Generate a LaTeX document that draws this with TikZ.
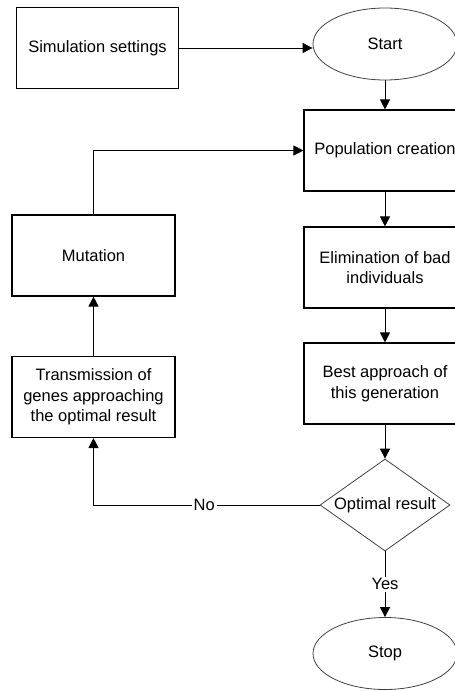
\documentclass[tikz,border=0pt]{standalone}
\usepackage{fontspec}
\setmainfont{Liberation Sans}
\usetikzlibrary{arrows.meta,shapes.geometric}

\begin{document}
\begin{tikzpicture}[x=1pt,y=-1pt,
    font=\fontsize{16.5}{20.5}\selectfont,
    box/.style={draw,line width=1.1pt,minimum width=162pt,minimum height=81pt,align=center,inner sep=0pt},
    terminal/.style={draw=black!75,ellipse,line width=0.8pt,minimum width=144pt,minimum height=72pt,inner sep=0pt},
    decision/.style={draw=black!75,diamond,line width=0.8pt,aspect=1.41,minimum width=130pt,minimum height=92pt,inner sep=0pt},
    flow/.style={line width=0.9pt,-{Triangle[length=10pt,width=10pt]}},
    lbl/.style={fill=white,inner sep=2pt}]
    \useasboundingbox (0,0) rectangle (455,691);
    \clip (0,0) rectangle (455,691);

    \node[box] (settings) at (97.5,48) {Simulation settings};
    \node[terminal] (start) at (385,44) {Start};
    \node[box] (population) at (385,150.5) {Population creation};
    \node[box] (elimination) at (385,267.5) {Elimination of bad\\individuals};
    \node[box] (best) at (385,383.5) {Best approach of\\this generation};
    \node[decision] (optimal) at (385,505) {Optimal result};
    \node[terminal] (stop) at (385,653.5) {Stop};

    \node[box,minimum width=163pt] (mutation) at (93.5,255.5) {Mutation};
    \node[box,minimum width=163pt] (transmission) at (93.5,397) {Transmission of\\genes approaching\\the optimal result};

    \coordinate (corner) at (93.5,505);

    \draw[flow] (settings.east) -- (settings.east -| start.west);
    \draw[flow] (start) -- (population);
    \draw[flow] (population) -- (elimination);
    \draw[flow] (elimination) -- (best);
    \draw[flow] (best) -- (optimal);
    \draw[flow] (optimal) -- node[lbl] {Yes} (stop);

    \draw[flow] (optimal.west) -- node[lbl,pos=0.51] {No} (corner) -- (transmission.south);
    \draw[flow] (transmission) -- (mutation);
    \draw[flow] (mutation.north) |- (population.west);
\end{tikzpicture}
\end{document}
